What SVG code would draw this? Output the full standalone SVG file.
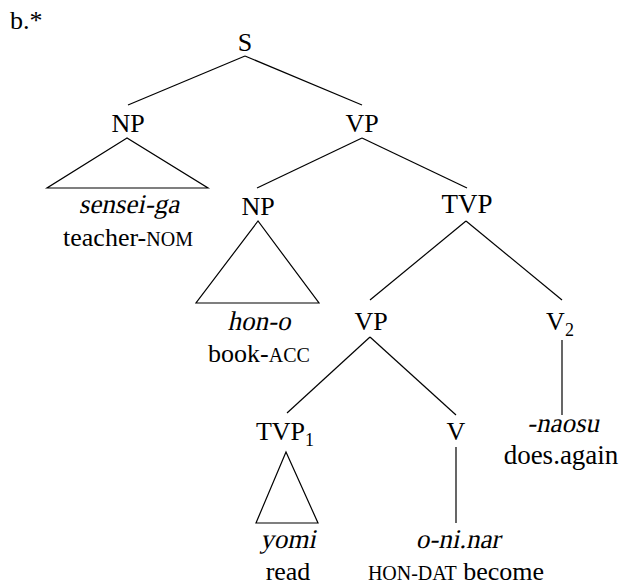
<svg xmlns="http://www.w3.org/2000/svg" width="626" height="585" viewBox="0 0 626 585">
<style>
#edges line,#edges polygon{stroke:#000;stroke-width:1.2;fill:none}
</style>
<rect width="626" height="585" fill="#fff"/>
<text x="10" y="29" font-family="Liberation Serif" font-size="26" text-anchor="start">b.*</text>
<g id="edges">
<line x1="245" y1="56" x2="128" y2="105"/>
<line x1="245" y1="56" x2="362" y2="105"/>
<polygon points="127,138 47,188 208,188"/>
<line x1="362" y1="138" x2="257" y2="188"/>
<line x1="362" y1="138" x2="467" y2="188"/>
<polygon points="258,221 196,303 319,303"/>
<line x1="466" y1="221" x2="370" y2="300"/>
<line x1="466" y1="221" x2="562" y2="300"/>
<line x1="370" y1="337" x2="287" y2="413"/>
<line x1="370" y1="337" x2="456" y2="415"/>
<line x1="562" y1="340" x2="562" y2="415"/>
<polygon points="286,452 256,523 318,523"/>
<line x1="456" y1="447" x2="456" y2="523"/>
</g>
<g id="n-S"><text x="245" y="51" font-family="Liberation Serif" font-size="26" text-anchor="middle">S</text></g>
<g id="n-NP1"><text x="128" y="132" font-family="Liberation Serif" font-size="26" text-anchor="middle">NP</text>
<text x="0" y="0" transform="translate(129,213) skewX(-12)" font-family="Liberation Serif" font-size="27" text-anchor="middle">sensei-ga</text>
<text x="128" y="246" font-family="Liberation Serif" font-size="26" text-anchor="middle">teacher-<tspan font-family="Liberation Serif" font-size="20">NOM</tspan></text></g>
<g id="n-VP1"><text x="362" y="132" font-family="Liberation Serif" font-size="26" text-anchor="middle">VP</text></g>
<g id="n-NP2"><text x="258" y="215" font-family="Liberation Serif" font-size="26" text-anchor="middle">NP</text>
<text x="0" y="0" transform="translate(259,330) skewX(-12)" font-family="Liberation Serif" font-size="27" text-anchor="middle">hon-o</text>
<text x="259" y="362" font-family="Liberation Serif" font-size="26" text-anchor="middle">book-<tspan font-family="Liberation Serif" font-size="20">ACC</tspan></text></g>
<g id="n-TVP"><text x="467" y="213" font-family="Liberation Serif" font-size="27" text-anchor="middle">TVP</text></g>
<g id="n-VP2"><text x="371" y="330" font-family="Liberation Serif" font-size="26" text-anchor="middle">VP</text></g>
<g id="n-V2"><text x="560" y="330" font-family="Liberation Serif" font-size="26" text-anchor="middle">V<tspan font-family="Liberation Serif" font-size="18" dy="6">2</tspan></text>
<text x="0" y="0" transform="translate(563,432) skewX(-12)" font-family="Liberation Serif" font-size="27" text-anchor="middle">-naosu</text>
<text x="561" y="464" font-family="Liberation Serif" font-size="27" text-anchor="middle">does.again</text></g>
<g id="n-TVP1"><text x="285" y="440" font-family="Liberation Serif" font-size="26" text-anchor="middle">TVP<tspan font-family="Liberation Serif" font-size="18" dy="6">1</tspan></text>
<text x="0" y="0" transform="translate(288,548) skewX(-12)" font-family="Liberation Serif" font-size="27" text-anchor="middle">yomi</text>
<text x="288" y="580" font-family="Liberation Serif" font-size="26" text-anchor="middle">read</text></g>
<g id="n-V"><text x="456" y="440" font-family="Liberation Serif" font-size="26" text-anchor="middle">V</text>
<text x="0" y="0" transform="translate(458,548) skewX(-12)" font-family="Liberation Serif" font-size="27" text-anchor="middle">o-ni.nar</text>
<text x="456" y="580" font-family="Liberation Serif" font-size="26" text-anchor="middle"><tspan font-family="Liberation Serif" font-size="20">HON-DAT</tspan> become</text></g>
</svg>
